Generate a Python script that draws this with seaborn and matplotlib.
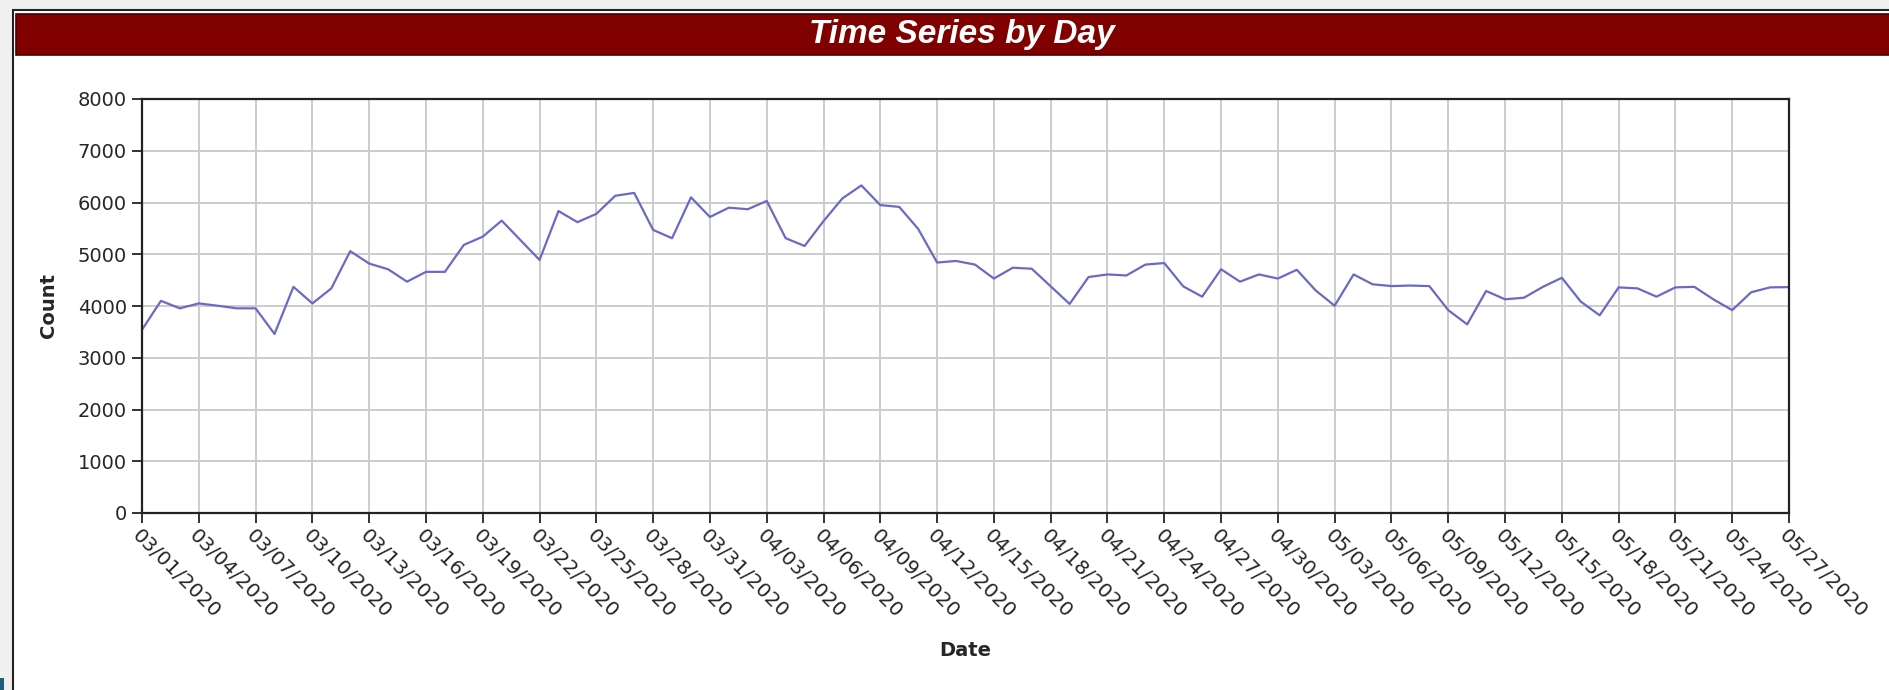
import pandas as pd
import matplotlib
matplotlib.use("Agg")
import matplotlib.pyplot as plt
from matplotlib.patches import Rectangle
import seaborn as sns

# Daily counts, 03/01/2020 .. 05/27/2020
dates = pd.date_range("2020-03-01", "2020-05-27", freq="D")
counts = [
    3540, 4100, 3955, 4050, 4005, 3955, 3955, 3460, 4370, 4050,
    4340, 5060, 4820, 4710, 4470, 4660, 4660, 5180, 5340, 5650,
    5270, 4890, 5835, 5620, 5780, 6130, 6185, 5470, 5310, 6100,
    5720, 5900, 5870, 6030, 5310, 5160, 5640, 6080, 6330, 5950,
    5915, 5490, 4840, 4870, 4800, 4530, 4740, 4720, 4380, 4040,
    4560, 4610, 4590, 4800, 4830, 4380, 4180, 4710, 4470, 4610,
    4530, 4700, 4300, 4005, 4610, 4420, 4385, 4395, 4385, 3920,
    3645, 4290, 4130, 4160, 4370, 4545, 4085, 3820, 4360, 4340,
    4180, 4360, 4370, 4130, 3920, 4265, 4360, 4365,
]
y_ticks = [0, 1000, 2000, 3000, 4000, 5000, 6000, 7000, 8000]

df = pd.DataFrame({"Date": dates, "Count": counts})

sns.set_style("whitegrid")
plt.rcParams["font.family"] = ["DejaVu Sans"]

W, H = 1889, 690
fig = plt.figure(figsize=(W / 100, H / 100), dpi=100)
fig.patch.set_facecolor("#f0f0f0")

# white panel with dark border (behind the axes)
fig.patches.append(Rectangle((13 / W, -0.05), 1, 1.05 - 10 / H,
                             transform=fig.transFigure, facecolor="white",
                             edgecolor="#222222", linewidth=1.5, zorder=-3))
# title bar
fig.patches.append(Rectangle((16 / W, 1 - 55 / H), 1, 41 / H,
                             transform=fig.transFigure, facecolor="#800000",
                             edgecolor="#4a0000", linewidth=1.2, zorder=-2))
# small mark in the bottom-left corner
fig.patches.append(Rectangle((0, 0), 4 / W, 12 / H,
                             transform=fig.transFigure, facecolor="#1f5f7a",
                             edgecolor="none", zorder=-2))
fig.text(962 / W, 1 - 43 / H, "Time Series by Day", color="white",
         fontsize=24, fontweight="bold", fontstyle="italic",
         family=["Liberation Sans", "DejaVu Sans"],
         ha="center", va="baseline")

ax = fig.add_axes([142 / W, 1 - 513 / H, (1789 - 142) / W, (513 - 99) / H])
ax.set_facecolor("white")

sns.lineplot(data=df, x="Date", y="Count", ax=ax, color="#6a6ac4", linewidth=1.6)

ax.set_xlim(dates[0], dates[-1])
ax.set_ylim(0, 8000)
ax.set_yticks(y_ticks)
ax.set_yticklabels([str(v) for v in y_ticks], fontsize=14)

tick_dates = dates[::3]
ax.set_xticks(tick_dates)
ax.set_xticklabels([d.strftime("%m/%d/%Y") for d in tick_dates],
                   rotation=-45, ha="left", va="top", rotation_mode="anchor",
                   fontsize=14.5)

ax.grid(True, color="#cccccc", linewidth=1.4)
for s in ax.spines.values():
    s.set_visible(True)
    s.set_color("#222222")
    s.set_linewidth(1.6)
ax.tick_params(axis="both", length=7, width=1.3, color="#222222",
               direction="out", left=True, bottom=True)
ax.tick_params(axis="y", pad=4)
ax.tick_params(axis="x", pad=2)

ax.set_xlabel("Date", fontsize=14, fontweight="bold", labelpad=14)
ax.set_ylabel("Count", fontsize=14, fontweight="bold", labelpad=14)

fig.savefig("out.png", dpi=100, facecolor=fig.get_facecolor())
